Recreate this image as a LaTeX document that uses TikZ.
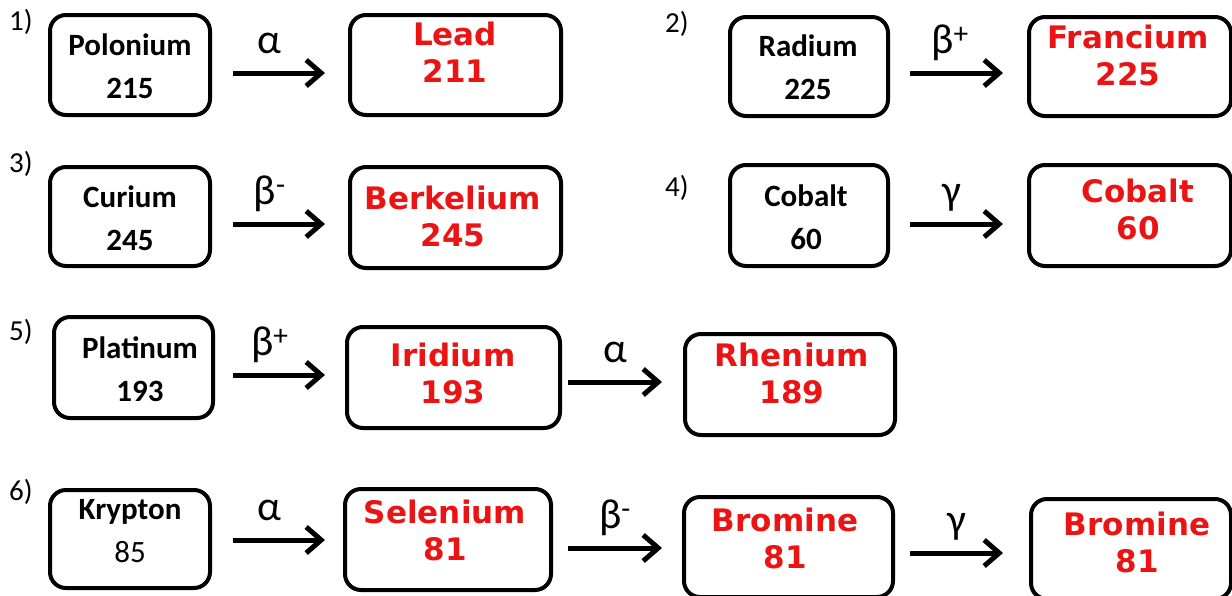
\documentclass[tikz,border=0pt]{standalone}
\usepackage{fontspec}
\setmainfont{Carlito}
\newfontfamily\redfont{DejaVu Sans}
\usetikzlibrary{arrows.meta,calc}
\begin{document}
\begin{tikzpicture}[x=1pt,y=-1pt,
  box/.style={draw=black,line width=4pt,rounded corners=16pt,inner sep=0pt},
  blk/.style={align=center,inner sep=0pt,font=\fontsize{31}{43}\selectfont\bfseries},
  red/.style={align=center,inner sep=0pt,text={rgb,255:red,235;green,20;blue,20},font=\redfont\fontsize{31}{37}\selectfont\bfseries},
  arr/.style={line width=5pt,-{Straight Barb[length=15pt,width=26pt,line width=5pt]}},
  lbl/.style={anchor=base,inner sep=0pt,yshift=20pt,font=\fontsize{42}{44}\selectfont},
  num/.style={anchor=north west,inner sep=0pt,font=\fontsize{29}{30}\selectfont}]
\useasboundingbox (0,0) rectangle (1232,595);
% numbers
\node[num] (n1) at (9,9) {1)};
\node[num] (n2) at (665,11) {2)};
\node[num] (n3) at (9,151) {3)};
\node[num] (n4) at (665,175) {4)};
\node[num] (n5) at (9,319) {5)};
\node[num] (n6) at (9,479) {6)};
% row 1
\node[box,minimum width=160,minimum height=100] (pol) at (130,65) {};
\node[blk] (polt) at (130,66) {Polonium\\215};
\node[box,minimum width=211,minimum height=100] (lead) at (455.5,65) {};
\node[red] (leadt) at (455,52) {Lead\\211};
\node[box,minimum width=158,minimum height=99] (rad) at (809,66.5) {};
\node[blk] (radt) at (808,67) {Radium\\225};
\node[box,minimum width=202,minimum height=99] (fra) at (1130,66.5) {};
\node[red] (frat) at (1128,55) {Francium\\225};
% row 2
\node[box,minimum width=160,minimum height=99] (cur) at (130,216.5) {};
\node[blk] (curt) at (130,218) {Curium\\245};
\node[box,minimum width=211,minimum height=101] (ber) at (455.5,217.5) {};
\node[red] (bert) at (453,216) {Berkelium\\245};
\node[box,minimum width=158,minimum height=101] (cob) at (809,215.5) {};
\node[blk] (cobt) at (806,217) {Cobalt\\60};
\node[box,minimum width=202,minimum height=101] (cobr) at (1130,215.5) {};
\node[red] (cobrt) at (1138,209) {Cobalt\\60};
% row 3
\node[box,minimum width=159,minimum height=101] (pla) at (133.5,367.5) {};
\node[blk] (plat) at (140,369) {Platinum\\193};
\node[box,minimum width=213,minimum height=101] (iri) at (453.5,377.5) {};
\node[red] (irit) at (453,373) {Iridium\\193};
\node[box,minimum width=210,minimum height=101] (rhe) at (790,384.5) {};
\node[red] (rhet) at (792,373) {Rhenium\\189};
% row 4
\node[box,minimum width=160,minimum height=98] (kry) at (130,539) {};
\node[blk] (kryt) at (130,531) {Krypton\\{\mdseries 85}};
\node[box,minimum width=206,minimum height=101] (sel) at (448,539.5) {};
\node[red] (selt) at (445,530) {Selenium\\81};
\node[box,minimum width=209,minimum height=100] (bro) at (788.5,547) {};
\node[red] (brot) at (785,538) {Bromine\\81};
\node[box,minimum width=200,minimum height=100] (brt) at (1131,549) {};
\node[red] (brtt) at (1137,542) {Bromine\\81};
% arrows
\draw[arr] ([shift={(21,8)}]pol.east) coordinate (s1) -- ($(lead.west |- s1)+(-23,0)$) node[lbl,pos=0.4] (a1) {α};
\draw[arr] ([shift={(20,6.5)}]rad.east) coordinate (s2) -- ($(fra.west |- s2)+(-24,0)$) node[lbl,pos=0.43] (a2) {β\textsuperscript{+}};
\draw[arr] ([shift={(21,7.5)}]cur.east) coordinate (s3) -- ($(ber.west |- s3)+(-23,0)$) node[lbl,pos=0.4] (a3) {β\textsuperscript{-}};
\draw[arr] ([shift={(20,8.5)}]cob.east) coordinate (s4) -- ($(cobr.west |- s4)+(-24,0)$) node[lbl,pos=0.45] (a4) {γ};
\draw[arr] ([shift={(18,7.5)}]pla.east) coordinate (s5) -- ($(iri.west |- s5)+(-20,0)$) node[lbl,pos=0.4] (a5) {β\textsuperscript{+}};
\draw[arr] ([shift={(6,4.5)}]iri.east) coordinate (s6) -- ($(rhe.west |- s6)+(-21,0)$) node[lbl,pos=0.5] (a6) {α};
\draw[arr] ([shift={(21,1)}]kry.east) coordinate (s7) -- ($(sel.west |- s7)+(-18,0)$) node[lbl,pos=0.4] (a7) {α};
\draw[arr] ([shift={(15,8.5)}]sel.east) coordinate (s8) -- ($(bro.west |- s8)+(-20,0)$) node[lbl,pos=0.5] (a8) {β\textsuperscript{-}};
\draw[arr] ([shift={(15,6)}]bro.east) coordinate (s9) -- ($(brt.west |- s9)+(-26,0)$) node[lbl,pos=0.5] (a9) {γ};
\end{tikzpicture}
\end{document}
